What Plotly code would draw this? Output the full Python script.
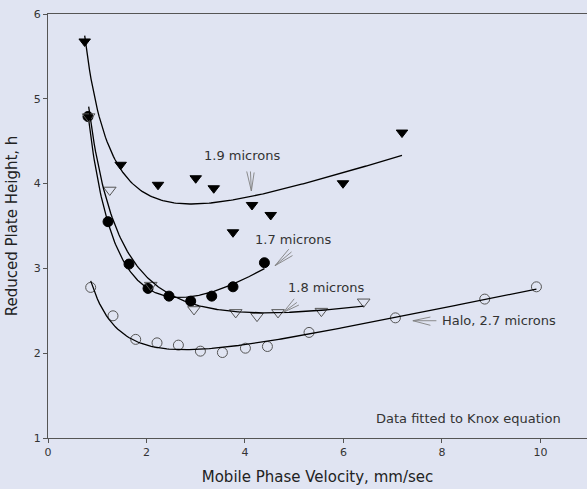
import numpy as np
import plotly.graph_objects as go

# Mobile phase velocity (mm/sec) and reduced plate height h for each column packing
u_19 = [0.745, 1.476, 2.234, 3.000, 3.366, 3.757, 4.143, 4.523, 5.991, 7.189]
h_19 = [5.676, 4.222, 3.986, 4.063, 3.945, 3.426, 3.748, 3.630, 4.004, 4.602]

u_17 = [0.812, 1.219, 1.645, 2.031, 2.457, 2.898, 3.325, 3.757, 4.395]
h_17 = [4.791, 3.551, 3.051, 2.764, 2.673, 2.614, 2.673, 2.783, 3.067]

u_18 = [0.826, 1.254, 2.086, 2.965, 3.812, 4.245, 4.671, 5.552, 6.411]
h_18 = [4.790, 3.925, 2.803, 2.516, 2.481, 2.437, 2.481, 2.496, 2.606]

u_halo = [0.867, 1.320, 1.781, 2.214, 2.648, 3.095, 3.542, 4.009, 4.456,
          5.301, 7.055, 8.869, 9.919]
h_halo = [2.776, 2.441, 2.163, 2.122, 2.095, 2.024, 2.008, 2.059, 2.079,
          2.245, 2.417, 2.638, 2.783]

x_ticks = [0, 2, 4, 6, 8, 10]
y_ticks = [1, 2, 3, 4, 5, 6]

BG = "#e0e4f2"
FONT = "DejaVu Sans"


def knox_curve(u, h, n=200):
    """Least-squares fit of h = A*u^(1/3) + B/u + C*u, sampled over the data range."""
    u = np.asarray(u, float)
    h = np.asarray(h, float)
    M = np.column_stack([np.cbrt(u), 1.0 / u, u])
    coef, *_ = np.linalg.lstsq(M, h, rcond=None)
    uu = np.linspace(u.min(), u.max(), n)
    hh = np.column_stack([np.cbrt(uu), 1.0 / uu, uu]) @ coef
    return uu, hh


fig = go.Figure()

series = [
    (u_19, h_19, dict(symbol="triangle-down", size=10, color="black",
                      line=dict(color="black", width=1))),
    (u_17, h_17, dict(symbol="circle", size=10, color="black",
                      line=dict(color="black", width=1))),
    (u_18, h_18, dict(symbol="triangle-down-open", size=11, color="#555555",
                      line=dict(color="#555555", width=1))),
    (u_halo, h_halo, dict(symbol="circle-open", size=10, color="#555555",
                          line=dict(color="#555555", width=1))),
]

for u, h, mk in series:
    fig.add_trace(go.Scatter(x=u, y=h, mode="markers", marker=mk,
                             showlegend=False, hoverinfo="skip"))
    uu, hh = knox_curve(u, h)
    fig.add_trace(go.Scatter(x=uu, y=hh, mode="lines",
                             line=dict(color="black", width=1.3),
                             showlegend=False, hoverinfo="skip"))

# Series labels
labels = [
    ("1.9 microns", 3.94, 4.337),
    ("1.7 microns", 4.97, 3.335),
    ("1.8 microns", 5.65, 2.777),
    ("Halo, 2.7 microns", 9.155, 2.383),
    ("Data fitted to Knox equation", 8.546, 1.232),
]
for txt, x, y in labels:
    fig.add_annotation(x=x, y=y, text=txt, showarrow=False,
                       font=dict(family=FONT, size=13, color="#333333"),
                       xanchor="center", yanchor="middle")

# Fan-style pointers: tip in data units, tails as pixel offsets
pointers = [
    ((4.13, 3.913), [(-5, -21), (-1, -21), (3, -20)]),
    ((4.61, 3.032), [(15, -18), (18, -15), (19, -11)]),
    ((4.78, 2.482), [(12, -15), (15, -11), (17, -8)]),
    ((7.41, 2.383), [(19, -4), (25, 0), (19, 5)]),
]
for (tx, ty), tails in pointers:
    for ax, ay in tails:
        fig.add_annotation(x=tx, y=ty, ax=ax, ay=ay, text="", showarrow=True,
                           arrowhead=0, arrowwidth=0.9, arrowcolor="#808080",
                           standoff=0, startstandoff=0)

fig.update_layout(
    width=587, height=489,
    margin=dict(l=48, r=0, t=14, b=51),
    paper_bgcolor=BG, plot_bgcolor=BG,
    font=dict(family=FONT, size=11, color="#333333"),
    xaxis=dict(
        range=[0, 10.946], tickvals=x_ticks, ticktext=[str(v) for v in x_ticks],
        showgrid=False, zeroline=False, showline=True, linecolor="#555555",
        linewidth=1, mirror=True, ticks="outside", ticklen=4, tickcolor="#555555",
        tickfont=dict(family=FONT, size=11, color="#333333"),
        title=dict(text="Mobile Phase Velocity, mm/sec", standoff=13,
                   font=dict(family=FONT, size=15, color="#222222")),
    ),
    yaxis=dict(
        range=[1, 6], tickvals=y_ticks, ticktext=[str(v) for v in y_ticks],
        showgrid=False, zeroline=False, showline=True, linecolor="#555555",
        linewidth=1, ticks="outside", ticklen=4, tickcolor="#555555",
        tickfont=dict(family=FONT, size=11, color="#333333"),
        title=dict(text="Reduced Plate Height, h", standoff=12,
                   font=dict(family=FONT, size=15, color="#222222")),
    ),
)

fig.write_html("out.html")
